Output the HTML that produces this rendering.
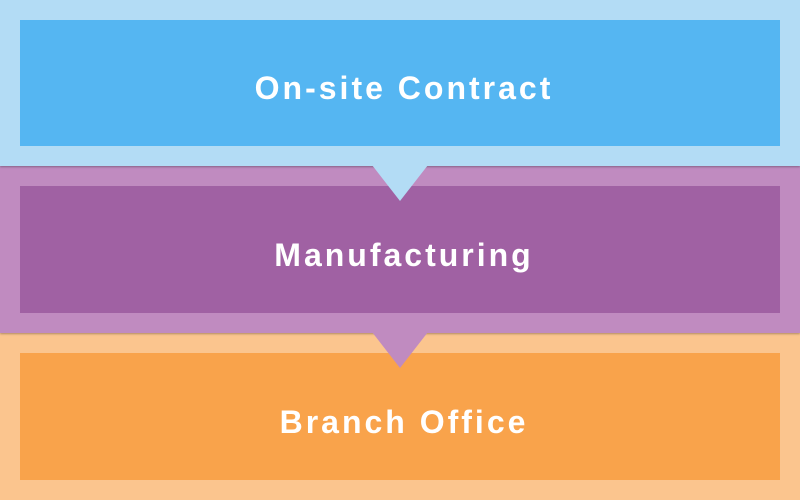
<!DOCTYPE html>
<html><head><style>
body{margin:0;width:800px;height:500px;overflow:hidden;background:#fbc58e;position:relative;font-family:"Liberation Sans",sans-serif}
.b{position:absolute;left:0;width:800px}
.i{position:absolute;left:20px;width:760px;color:#fff;font-size:32px;font-weight:bold;letter-spacing:3px;text-align:center;display:flex;align-items:center;justify-content:center;box-sizing:border-box;padding-top:11px;padding-left:8px}
svg{position:absolute;left:0;top:0}
</style></head><body>
<div class="b" style="top:333px;height:167px;background:#fbc58e"></div>
<div class="i" style="top:353px;height:127px;background:#f9a34b">Branch Office</div>
<div class="b" style="top:166px;height:167px;background:#c08bc0;box-shadow:0 1px 2px rgba(0,0,0,.3)"></div>
<div class="i" style="top:186px;height:127px;background:#a061a3">Manufacturing</div>
<div class="b" style="top:0;height:166px;background:#b3dcf5;box-shadow:0 1px 2px rgba(0,0,0,.3)"></div>
<div class="i" style="top:20px;height:126px;background:#55b6f2">On-site Contract</div>
<svg width="800" height="500">
<polygon points="372,165 428,165 400,201" fill="#b3dcf5"/>
<polygon points="372,332 428,332 400,368" fill="#c08bc0"/>
</svg>
</body></html>
